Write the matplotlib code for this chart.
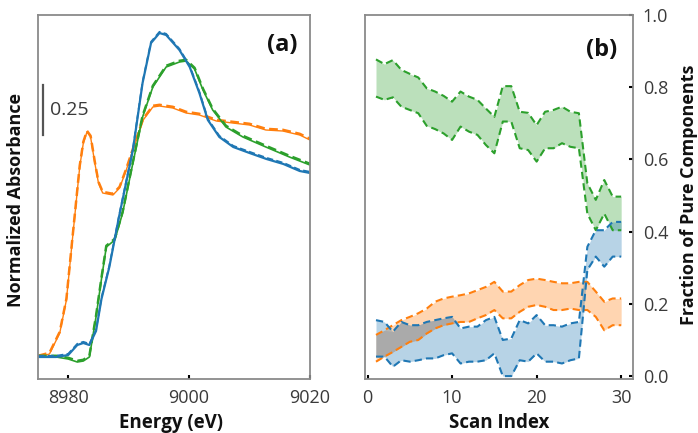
import numpy as np
import matplotlib
matplotlib.use('Agg')
import matplotlib.pyplot as plt

plt.rcParams['font.family'] = ['Open Sans', 'DejaVu Sans']

# ---- panel (a): normalized XANES spectra ----
e_blue = [8975, 8978, 8980, 8981.5, 8982.5, 8983.5, 8984.6, 8985.5, 8986.8, 8988.4, 8989.5,
          8990.7, 8992.3, 8993.7, 8995.1, 8996.2, 8998.4, 9000.1, 9001.7, 9003.1, 9005,
          9007.3, 9010, 9012.8, 9015.6, 9018.3, 9020]
a_blue = [0.11, 0.11, 0.12, 0.17, 0.18, 0.17, 0.24, 0.40, 0.56, 0.81, 0.97,
          1.145, 1.48, 1.68, 1.73, 1.72, 1.645, 1.56, 1.43, 1.295, 1.21,
          1.16, 1.13, 1.10, 1.075, 1.04, 1.03]

e_green = [8975, 8978, 8980, 8981.5, 8982.5, 8983.5, 8984.6, 8985.5, 8986.3, 8987.7, 8989,
           8990.7, 8992.3, 8994, 8996.2, 8998.4, 8999.5, 9000.9, 9002.3, 9003.9, 9006.1,
           9008.9, 9012.7, 9016.6, 9020]
a_green = [0.11, 0.11, 0.10, 0.085, 0.09, 0.11, 0.31, 0.50, 0.66, 0.695, 0.83,
           1.08, 1.31, 1.46, 1.56, 1.585, 1.59, 1.55, 1.445, 1.345, 1.26,
           1.21, 1.16, 1.11, 1.07]

e_orange = [8975, 8976.9, 8978.6, 8979.7, 8980.8, 8981.9, 8982.5, 8983.1, 8983.7, 8984.4, 8985.0,
            8985.7, 8987.4, 8988.5, 8989.6, 8990.7, 8992.4, 8994, 8995.1, 8997.3, 8999.5,
            9001.7, 9004.5, 9007.2, 9010, 9012.7, 9015.5, 9018.3, 9020]
a_orange = [0.11, 0.125, 0.23, 0.395, 0.73, 1.06, 1.18, 1.235, 1.21, 1.08, 0.98,
            0.93, 0.92, 0.955, 1.045, 1.145, 1.295, 1.36, 1.365, 1.355, 1.33,
            1.32, 1.29, 1.28, 1.27, 1.245, 1.24, 1.22, 1.195]

# ---- panel (b): fraction of pure components (bounds) ----
scan = np.arange(1, 31)
green_hi = [0.877, 0.864, 0.875, 0.848, 0.837, 0.827, 0.797, 0.788, 0.776, 0.76,
            0.788, 0.774, 0.765, 0.741, 0.718, 0.803, 0.803, 0.732, 0.729, 0.695,
            0.732, 0.737, 0.746, 0.732, 0.728, 0.534, 0.488, 0.543, 0.497, 0.497]
green_lo = [0.774, 0.765, 0.772, 0.746, 0.737, 0.728, 0.693, 0.684, 0.672, 0.654,
            0.691, 0.677, 0.668, 0.64, 0.617, 0.705, 0.705, 0.631, 0.626, 0.594,
            0.631, 0.631, 0.645, 0.635, 0.631, 0.45, 0.404, 0.45, 0.404, 0.404]
blue_hi = [0.155, 0.15, 0.123, 0.15, 0.141, 0.141, 0.15, 0.155, 0.16, 0.164,
           0.132, 0.137, 0.137, 0.155, 0.164, 0.1, 0.104, 0.155, 0.146, 0.169,
           0.141, 0.141, 0.137, 0.146, 0.15, 0.358, 0.404, 0.404, 0.427, 0.427]
blue_lo = [0.054, 0.054, 0.026, 0.044, 0.04, 0.044, 0.049, 0.049, 0.058, 0.063,
           0.035, 0.04, 0.04, 0.044, 0.063, 0.0, 0.0, 0.044, 0.04, 0.063,
           0.04, 0.04, 0.035, 0.044, 0.049, 0.294, 0.331, 0.303, 0.331, 0.331]
orange_hi = [0.114, 0.127, 0.141, 0.155, 0.164, 0.174, 0.187, 0.206, 0.215, 0.22,
             0.224, 0.229, 0.238, 0.247, 0.261, 0.234, 0.234, 0.252, 0.266, 0.27,
             0.266, 0.261, 0.257, 0.257, 0.261, 0.261, 0.234, 0.206, 0.215, 0.215]
orange_lo = [0.04, 0.054, 0.067, 0.081, 0.095, 0.1, 0.118, 0.132, 0.141, 0.146,
             0.15, 0.15, 0.16, 0.169, 0.183, 0.16, 0.16, 0.178, 0.192, 0.197,
             0.192, 0.183, 0.183, 0.187, 0.183, 0.183, 0.164, 0.127, 0.141, 0.141]

C_BLUE, C_ORANGE, C_GREEN = '#1f77b4', '#ff7f0e', '#2ca02c'
SPINE = '#8a8a8a'
TXT = '#3a3a3a'

fig = plt.figure(figsize=(6.98, 4.33), dpi=100)
ax1 = fig.add_axes([38/698, 54/433, 272/698, 364/433])
ax2 = fig.add_axes([365/698, 54/433, 268/698, 364/433])

# panel (a): each spectrum has a measured (solid) and a fitted (dashed) trace
styles = [(e_orange, a_orange, C_ORANGE, 1.0, 1.8),
          (e_green, a_green, C_GREEN, 1.2, 1.8),
          (e_blue, a_blue, C_BLUE, 1.6, 1.3)]
for e, a, c, lw_solid, lw_dash in styles:
    a = np.array(a)
    ax1.plot(e, a, color=c, lw=lw_solid, ls='-')
    ax1.plot(e, a + 0.006, color=c, lw=lw_dash, ls='--', dashes=(3.5, 1.8))

ax1.set_xlim(8975, 9020)
ax1.set_ylim(0, 1.82)
ax1.set_xticks([8980, 9000, 9020])
ax1.set_yticks([])
ax1.plot([8975.85, 8975.85], [1.22, 1.47], color='#555555', lw=1.6)
ax1.text(8977.0, 1.345, '0.25', fontsize=14, color=TXT, va='center', ha='left')
ax1.text(0.897, 0.918, '(a)', transform=ax1.transAxes, fontsize=17, fontweight='bold',
         ha='center', va='center', color='#111111')

# panel (b)
bands = [(green_lo, green_hi, C_GREEN), (orange_lo, orange_hi, C_ORANGE), (blue_lo, blue_hi, C_BLUE)]
for lo, hi, c in bands:
    ax2.fill_between(scan, lo, hi, color=c, alpha=0.32, lw=0)
# grey where orange and blue bands overlap
ov_lo = np.maximum(blue_lo, orange_lo)
ov_hi = np.minimum(blue_hi, orange_hi)
ax2.fill_between(scan, ov_lo, ov_hi, where=ov_hi > ov_lo, interpolate=True,
                 color='#aaaaaa', lw=0)
for lo, hi, c in bands:
    ax2.plot(scan, lo, color=c, lw=1.5, ls='--', dashes=(3.5, 2))
    ax2.plot(scan, hi, color=c, lw=1.5, ls='--', dashes=(3.5, 2))

ax2.set_xlim(-0.3, 31.4)
ax2.set_ylim(-0.008, 1.0)
ax2.set_xticks([0, 10, 20, 30])
ax2.set_yticks([0.0, 0.2, 0.4, 0.6, 0.8, 1.0])
ax2.yaxis.tick_right()
ax2.text(0.884, 0.904, '(b)', transform=ax2.transAxes, fontsize=17, fontweight='bold',
         ha='center', va='center', color='#111111')

for ax in (ax1, ax2):
    for s in ax.spines.values():
        s.set_color(SPINE)
        s.set_linewidth(1.3)
    ax.tick_params(direction='in', length=3, width=1.5, color='black',
                   labelsize=13, labelcolor=TXT, pad=7)

fig.text(171/698, 1 - 423/433, 'Energy (eV)', fontsize=13.5, fontweight='bold',
         ha='center', va='center', color='#111111')
fig.text(499/698, 1 - 423/433, 'Scan Index', fontsize=13.5, fontweight='bold',
         ha='center', va='center', color='#111111')
fig.text(16/698, 1 - 200/433, 'Normalized Absorbance', fontsize=13, fontweight='bold',
         rotation=90, ha='center', va='center', color='#111111')
fig.text(689/698, 1 - 195/433, 'Fraction of Pure Components', fontsize=13, fontweight='bold',
         rotation=90, ha='center', va='center', color='#111111')

fig.savefig('out.png', dpi=100)
